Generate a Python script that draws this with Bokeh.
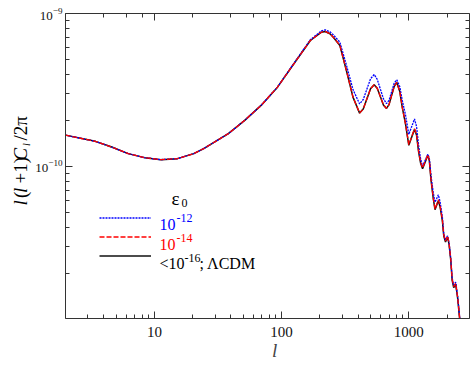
import math
from bokeh.plotting import figure
from bokeh.layouts import row
from bokeh.models import (LogAxis, LogTicker, FixedTicker, LogTickFormatter, PrintfTickFormatter,
                          CustomJSTickFormatter, Label, Legend, LegendItem, Range1d)
from bokeh.embed import file_html
from bokeh.resources import INLINE

# multipole moments
ell = [2.0, 3.43, 4.62, 6.22, 8.37, 11.27, 15.18, 20.4, 24.4, 38.1, 51.3, 69.0, 92.8,
       124.9, 168.3, 205.8, 220, 240, 254.9, 287.2, 323.1, 364.0, 410.2, 438.2, 468.0,
       500.0, 534.1, 564.5, 597.0, 631.4, 667.4, 699.0, 732.8, 768.2, 804.6, 849.6, 887.6,
       941.2, 1000, 1053, 1109, 1150, 1195, 1237, 1283, 1346, 1411, 1449, 1496, 1556, 1607,
       1656, 1707, 1762, 1834, 1883, 1944, 1979, 2015, 2073, 2137, 2191, 2254, 2295, 2336,
       2421, 2508, 2562]

# l(l+1)C_l/2pi in units of 1e-10 : eps0 < 1e-16 (LCDM)
cl_lcdm = [1.60, 1.457, 1.337, 1.211, 1.140, 1.106, 1.123, 1.211, 1.305, 1.636, 2.00, 2.505,
           3.298, 4.69, 6.66, 7.55, 7.63, 7.37, 7.00, 6.18, 4.24, 2.838, 2.230, 2.373, 2.762,
           3.215, 3.420, 3.244, 2.861, 2.523, 2.393, 2.534, 2.911, 3.344, 3.540, 3.083, 2.441,
           1.901, 1.372, 1.547, 1.745, 1.602, 1.240, 1.053, 0.966, 1.068, 1.180, 1.091, 0.810,
           0.618, 0.520, 0.556, 0.595, 0.5435, 0.4436, 0.350, 0.320, 0.3323, 0.345, 0.3087,
           0.243, 0.180, 0.161, 0.1653, 0.1694, 0.1372, 0.1011, 0.0848]

# eps0 = 1e-14
cl_eps14 = [1.60, 1.457, 1.337, 1.211, 1.140, 1.106, 1.123, 1.211, 1.305, 1.636, 2.00, 2.505,
            3.298, 4.69, 6.66, 7.55, 7.63, 7.37, 7.00, 6.18, 4.24, 2.838, 2.230, 2.373, 2.762,
            3.215, 3.420, 3.244, 2.861, 2.523, 2.393, 2.534, 2.911, 3.344, 3.540, 3.083, 2.441,
            1.901, 1.386, 1.562, 1.762, 1.618, 1.252, 1.064, 0.976, 1.079, 1.192, 1.102, 0.818,
            0.624, 0.525, 0.562, 0.604, 0.5517, 0.4503, 0.3553, 0.3248, 0.3373, 0.3502, 0.3133,
            0.2466, 0.1827, 0.1634, 0.1678, 0.1719, 0.1393, 0.1026, 0.0861]

# eps0 = 1e-12
cl_eps12 = [1.60, 1.457, 1.337, 1.211, 1.140, 1.106, 1.123, 1.211, 1.305, 1.636, 2.00, 2.505,
            3.298, 4.72, 6.74, 7.70, 7.82, 7.59, 7.25, 6.49, 4.60, 3.18, 2.56, 2.736, 3.196,
            3.736, 3.99, 3.711, 3.207, 2.770, 2.573, 2.701, 3.080, 3.508, 3.68, 3.314, 2.710,
            2.177, 1.619, 1.818, 2.042, 1.820, 1.364, 1.125, 1.0, 1.096, 1.20, 1.135, 0.863,
            0.674, 0.582, 0.615, 0.651, 0.585, 0.470, 0.364, 0.328, 0.339, 0.351, 0.3155,
            0.2496, 0.1858, 0.167, 0.1711, 0.175, 0.1417, 0.1044, 0.0876]

UNIT = 1e-10
y_major = [1e-10, 1e-9]
y_minor = [2e-11, 3e-11, 4e-11, 5e-11, 6e-11, 7e-11, 8e-11, 9e-11,
           2e-10, 3e-10, 4e-10, 5e-10, 6e-10, 7e-10, 8e-10, 9e-10]

FONT = "Liberation Serif"
AX = "#333333"
W, H = 471, 365
YL_W = 32  # width of the y-label strip

p = figure(width=W - YL_W, height=H, x_axis_type="log", y_axis_type="log",
           x_range=Range1d(2, 3000), y_range=Range1d(1.01e-11, 1e-9),
           output_backend="svg", toolbar_location=None,
           min_border_left=59 - YL_W, min_border_right=2, min_border_top=13,
           min_border_bottom=47)
p.grid.visible = False
p.outline_line_color = None


def style(ax):
    ax.major_tick_in = 7
    ax.major_tick_out = 0
    ax.minor_tick_in = 4
    ax.minor_tick_out = 0
    ax.axis_line_color = AX
    ax.major_tick_line_color = AX
    ax.minor_tick_line_color = AX
    ax.major_label_text_font = FONT
    ax.major_label_text_font_size = "15px"
    ax.major_label_text_color = "#111111"


for ax in p.xaxis:
    style(ax)
    ax.formatter = PrintfTickFormatter(format="%d")
    ax.major_label_standoff = 8
    ax.axis_label = "\u00a0\u00a0\u00a0l"
    ax.axis_label_text_font = FONT
    ax.axis_label_text_font_style = "italic"
    ax.axis_label_text_font_size = "19px"
    ax.axis_label_standoff = 0
for ax in p.yaxis:
    style(ax)
    ax.ticker = FixedTicker(ticks=y_major, minor_ticks=y_minor)
    ax.formatter = LogTickFormatter()
    ax.major_label_text_font_size = "13px"
    ax.major_label_standoff = 3

top = LogAxis(ticker=LogTicker(), formatter=CustomJSTickFormatter(code="return ''"),
              major_label_standoff=0)
right = LogAxis(ticker=FixedTicker(ticks=y_major, minor_ticks=y_minor),
                formatter=CustomJSTickFormatter(code="return ''"), major_label_standoff=0)
style(top)
style(right)
p.add_layout(top, "above")
p.add_layout(right, "right")

y_lcdm = [v * UNIT for v in cl_lcdm]
y_e14 = [v * UNIT for v in cl_eps14]
y_e12 = [v * UNIT for v in cl_eps12]

r_black = p.line(ell, y_lcdm, line_color="#111111", line_width=1.5)
r_blue = p.line(ell, y_e12, line_color="blue", line_width=1.3, line_dash="2 1")
r_red = p.line(ell, y_e14, line_color="red", line_width=1.3, line_dash="5 2")

legend = Legend(items=[LegendItem(label=" ", renderers=[r_blue]),
                       LegendItem(label=" ", renderers=[r_red]),
                       LegendItem(label=" ", renderers=[r_black])],
                location=(34, 53), glyph_width=52, glyph_height=19, label_height=19,
                spacing=0, padding=0, margin=0, border_line_color=None,
                background_fill_alpha=0, label_text_font_size="1px", label_standoff=0)
p.add_layout(legend)

X0, Y0 = 59, 318  # frame left / bottom in page pixels (frames share top/bottom in the row)


def txt(fig, s, sx, sy, size, color="black", style_="normal", angle=0.0, align="left",
        baseline="alphabetic"):
    fig.add_layout(Label(x=sx, y=sy, x_units="screen", y_units="screen", text=s,
                         text_font=FONT, text_font_size=f"{size}px", text_color=color,
                         text_font_style=style_, angle=angle, text_align=align,
                         text_baseline=baseline))


def ptxt(s, px, py, size, color="black", style_="normal"):
    txt(p, s, px - X0, Y0 - py, size, color, style_)


# legend texts
ptxt("ε", 165, 198, 19)
ptxt("0", 175, 202, 12)
ptxt("10", 153, 224, 16, "blue")
ptxt("-12", 170, 217.5, 12, "blue")
ptxt("10", 153, 243.5, 16, "red")
ptxt("-14", 170, 237, 12, "red")
ptxt("<10", 153, 263.3, 16)
ptxt("-16", 178, 257, 12)
ptxt("; ΛCDM", 193, 263.3, 16)

# y label strip
fy = figure(width=YL_W, height=H, output_backend="svg", toolbar_location=None,
            x_range=Range1d(0, 1), y_range=Range1d(0, 1), min_border=0,
            x_axis_location=None, y_axis_location=None)
fy.grid.visible = False
fy.outline_line_color = None

A = math.pi / 2


def ytxt(s, px, py, size, style_="normal"):
    txt(fy, s, px, Y0 - py, size, style_=style_, angle=A, baseline="middle")


ytxt("l", 19.5, 205, 19, "italic")
ytxt("(", 19.5, 197.5, 19)
ytxt("l", 19.5, 192.5, 19, "italic")
ytxt("+1)", 19.5, 183, 19)
ytxt("C", 19.5, 160, 19, "italic")
ytxt("l", 26, 145.5, 10, "italic")
ytxt("/2π", 19.5, 140, 19)

layout = row(fy, p, spacing=0)
open("out.html", "w").write(file_html(layout, INLINE))
